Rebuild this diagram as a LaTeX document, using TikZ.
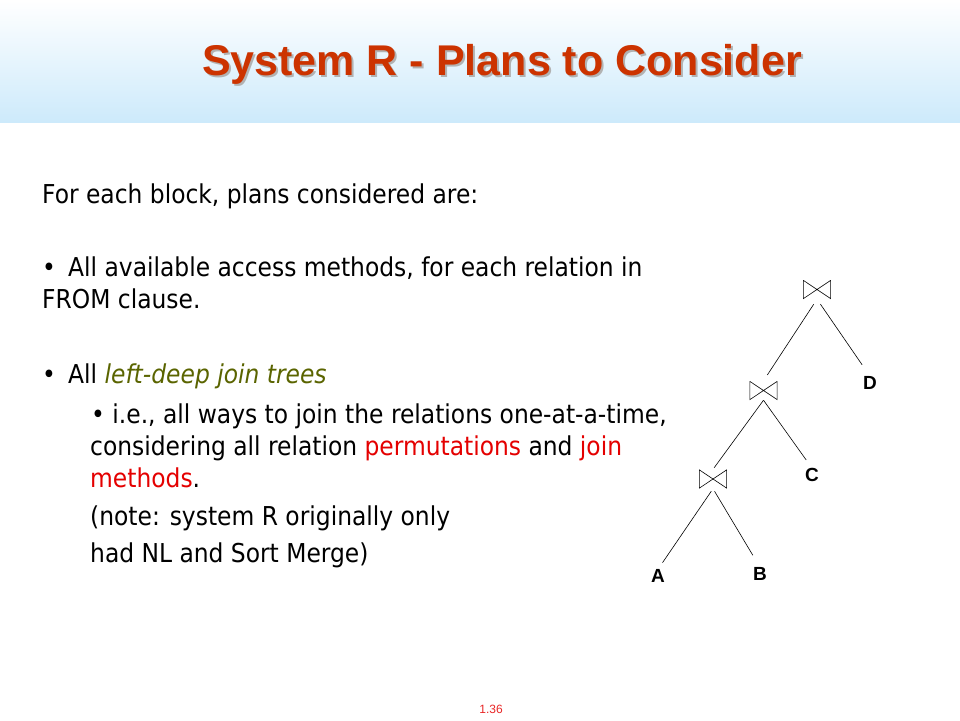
\documentclass[tikz,border=0pt]{standalone}
\usepackage{fontspec}
\setmainfont{DejaVu Sans Condensed}
\newfontfamily\headfont{Liberation Sans}
\usetikzlibrary{positioning}

\definecolor{titlered}{RGB}{204,51,0}
\definecolor{headblue}{RGB}{205,234,251}
\definecolor{deepolive}{RGB}{90,100,0}
\definecolor{keyred}{RGB}{228,0,0}

\newcommand{\shadowed}[1]{\makebox[0pt][l]{\hspace{2pt}\raisebox{-2pt}{\textcolor{black!30}{#1}}}#1}

\tikzset{
  body/.style={anchor=base west, inner sep=0pt, font=\fontsize{26}{30}\selectfont},
  title/.style={inner sep=0pt, font=\headfont\bfseries\fontsize{43}{48}\selectfont},
  leaf/.style={inner sep=0pt, font=\headfont\bfseries\fontsize{19}{22}\selectfont},
  joinop/.style={minimum width=28pt, minimum height=19pt, inner sep=0pt,
    path picture={
      \draw [line width=0.6pt]
        ([shift={(0.4pt,-0.4pt)}]path picture bounding box.north west)
        -- ([shift={(0.4pt,0.4pt)}]path picture bounding box.south west)
        -- ([shift={(-0.4pt,-0.4pt)}]path picture bounding box.north east)
        -- ([shift={(-0.4pt,0.4pt)}]path picture bounding box.south east)
        -- cycle;}},
  branch/.style={line width=0.6pt}
}

\begin{document}
\begin{tikzpicture}[x=1pt,y=-1pt]
    \useasboundingbox (0,0) rectangle (960,720);
    \shade [top color=white, bottom color=headblue] (0,0) rectangle (960,122);

    % title with its shadow
    \node [title, text=titlered] (title) at (502,65) {\shadowed{System R - Plans to Consider}};

    % text lines
    \node [body] (intro) at (42,203) {For each block, plans considered are:};
    \node [body] (b1) at (42,276) {\textbullet};
    \node [body] (access) at (68,276) {All available access methods, for each relation in};
    \node [body] (from) at (42,308) {FROM clause.};
    \node [body] (b2) at (42,383) {\textbullet};
    \node [body] (trees) at (68,383) {All \textcolor{deepolive}{\itshape left-deep join trees}};
    \node [body] (ie) at (91,423) {\textbullet{} i.e., all ways to join the relations one-at-a-time,};
    \node [body] (perm) at (90,455) {considering all relation \textcolor{keyred}{permutations} and \textcolor{keyred}{join}};
    \node [body] (meth) at (90,487) {\textcolor{keyred}{methods}.};
    \node [body] (note) at (90,525) {(note: system R originally only};
    \node [body] (nl) at (90,562) {had NL and Sort Merge)};

    % left-deep tree
    \node [joinop] (j3) at (817,289.5) {};
    \node [joinop] (j2) at (763.5,390.5) {};
    \node [joinop] (j1) at (713,479) {};
    \node [leaf] (d) at (870,383) {D};
    \node [leaf] (c) at (812,475) {C};
    \node [leaf] (a) at (658,576) {A};
    \node [leaf] (b) at (760,574) {B};
    \draw [branch, shorten <=6pt, shorten >=7pt] (j3.south) -- (j2.north);
    \draw [branch, shorten <=6pt, shorten >=14pt] (j3.south) -- (d.north);
    \draw [branch, shorten >=2pt] (j2.south) -- (j1.north);
    \draw [branch, shorten >=10pt] (j2.south) -- (c.north);
    \draw [branch, shorten <=3pt, shorten >=8pt] (j1.south) -- (a.north);
    \draw [branch, shorten <=3pt, shorten >=14pt] (j1.south) -- (b.north);

    \node [inner sep=0pt, text=keyred!85, font=\headfont\fontsize{12}{14}\selectfont] (page) at (491,709) {1.36};
\end{tikzpicture}
\end{document}
